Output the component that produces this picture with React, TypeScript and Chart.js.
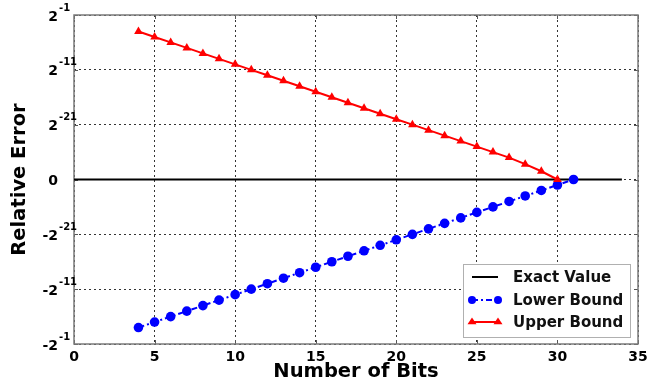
import React, { useEffect, useRef } from 'react';
import { Chart, registerables } from 'chart.js';

Chart.register(...registerables);

// Number of bits (x) for each series
const upperBits = [4, 5, 6, 7, 8, 9, 10, 11, 12, 13, 14, 15, 16, 17, 18, 19, 20, 21, 22, 23, 24, 25, 26, 27, 28, 29, 30];
const lowerBits = [4, 5, 6, 7, 8, 9, 10, 11, 12, 13, 14, 15, 16, 17, 18, 19, 20, 21, 22, 23, 24, 25, 26, 27, 28, 29, 30, 31];
const exactBits = [0, 34];

// Values in the axis' scaled units (2^-1 -> 30, 2^-11 -> 20, 2^-21 -> 10, 0 -> 0, negatives mirrored)
const upperValues = [27, 26, 25, 24, 23, 22, 21, 20, 19, 18, 17, 16, 15, 14, 13, 12, 11, 10, 9, 8, 7, 6, 5, 4, 2.8, 1.5, 0];
const lowerValues = [-27, -26, -25, -24, -23, -22, -21, -20, -19, -18, -17, -16, -15, -14, -13, -12, -11, -10, -9, -8, -7, -6, -5, -4, -3, -2, -1, 0];
const exactValues = [0, 0];

// Y tick labels: position, base text, superscript exponent
const yTickValues = [30, 20, 10, 0, -10, -20, -30];
const yTickBase = ['2', '2', '2', '0', '-2', '-2', '-2'];
const yTickExp = ['-1', '-11', '-21', '', '-21', '-11', '-1'];

const seriesLabels = ['Exact Value', 'Lower Bound', 'Upper Bound'];

const FONT = '"DejaVu Sans", Verdana, sans-serif';

const BLUE = '#0000ff';
const RED = '#ff0000';
const BLACK = '#000000';
const BLUE_DASH = [6, 3, 2, 3];

function drawMarker(ctx: CanvasRenderingContext2D, style: string, x: number, y: number, r: number, color: string) {
  ctx.save();
  ctx.fillStyle = color;
  ctx.beginPath();
  if (style === 'circle') {
    ctx.arc(x, y, r, 0, Math.PI * 2);
  } else {
    const h = r * 1.5;
    ctx.moveTo(x, y - h * 0.66);
    ctx.lineTo(x + r, y + h * 0.34);
    ctx.lineTo(x - r, y + h * 0.34);
    ctx.closePath();
  }
  ctx.fill();
  ctx.restore();
}

const overlayPlugin = {
  id: 'overlay',
  beforeDatasetsDraw(chart: any) {
    const { ctx, chartArea } = chart;
    const { left, right, top, bottom } = chartArea;
    const xs = chart.scales.x;
    const ys = chart.scales.y;
    ctx.save();
    // inward tick marks
    ctx.strokeStyle = '#555';
    ctx.lineWidth = 1;
    ctx.setLineDash([]);
    xs.ticks.forEach((t: any) => {
      const px = Math.round(xs.getPixelForValue(t.value)) + 0.5;
      ctx.beginPath();
      ctx.moveTo(px, bottom);
      ctx.lineTo(px, bottom - 4);
      ctx.moveTo(px, top);
      ctx.lineTo(px, top + 4);
      ctx.stroke();
    });
    yTickValues.forEach((v) => {
      const py = Math.round(ys.getPixelForValue(v)) + 0.5;
      ctx.beginPath();
      ctx.moveTo(left, py);
      ctx.lineTo(left + 4, py);
      ctx.moveTo(right, py);
      ctx.lineTo(right - 4, py);
      ctx.stroke();
    });
    // frame
    ctx.strokeStyle = '#7a7a7a';
    ctx.lineWidth = 1.5;
    ctx.strokeRect(left, top, right - left, bottom - top);
    ctx.restore();
  },
  afterDraw(chart: any) {
    const { ctx, chartArea } = chart;
    const { left, right, bottom } = chartArea;
    const ys = chart.scales.y;
    ctx.save();
    // y tick labels with superscripts
    ctx.fillStyle = '#000';
    yTickValues.forEach((v, i) => {
      const py = ys.getPixelForValue(v);
      ctx.font = `bold 14px ${FONT}`;
      ctx.textAlign = 'right';
      ctx.textBaseline = 'middle';
      ctx.fillText(yTickBase[i], left - 16, py + 2);
      if (yTickExp[i]) {
        ctx.font = `bold 10px ${FONT}`;
        ctx.textAlign = 'left';
        ctx.fillText(yTickExp[i], left - 15, py - 7);
      }
    });

    // legend
    const bx2 = right - 8;
    const by2 = bottom - 7;
    const bw = 167;
    const bh = 73;
    const bx = bx2 - bw;
    const by = by2 - bh;
    ctx.fillStyle = '#ffffff';
    ctx.fillRect(bx, by, bw, bh);
    ctx.strokeStyle = '#b0b0b0';
    ctx.lineWidth = 1;
    ctx.strokeRect(bx + 0.5, by + 0.5, bw, bh);

    const rows = [by + 13, by + 36, by + 58];
    const lx1 = bx + 9;
    const lx2 = bx + 35;
    const tx = bx + 50;
    const colors = [BLACK, BLUE, RED];
    rows.forEach((ry, i) => {
      ctx.save();
      ctx.strokeStyle = colors[i];
      ctx.lineWidth = 2;
      ctx.setLineDash(i === 1 ? BLUE_DASH : []);
      ctx.beginPath();
      ctx.moveTo(lx1, ry);
      ctx.lineTo(lx2, ry);
      ctx.stroke();
      ctx.restore();
      if (i === 1) {
        drawMarker(ctx, 'circle', lx1, ry, 4, BLUE);
        drawMarker(ctx, 'circle', lx2, ry, 4, BLUE);
      }
      if (i === 2) {
        drawMarker(ctx, 'triangle', lx1, ry, 4.5, RED);
        drawMarker(ctx, 'triangle', lx2, ry, 4.5, RED);
      }
      ctx.fillStyle = '#111';
      ctx.font = `bold 15px ${FONT}`;
      ctx.textAlign = 'left';
      ctx.textBaseline = 'middle';
      ctx.fillText(seriesLabels[i], tx, ry + 1);
    });
    ctx.restore();
  },
};

export default function App() {
  const canvasRef = useRef<HTMLCanvasElement | null>(null);

  useEffect(() => {
    document.body.style.margin = '0';
    const canvas = canvasRef.current;
    if (!canvas) return;

    const chart = new Chart(canvas, {
      type: 'line',
      data: {
        datasets: [
          {
            label: seriesLabels[0],
            data: exactBits.map((x, i) => ({ x, y: exactValues[i] })),
            borderColor: BLACK,
            backgroundColor: BLACK,
            borderWidth: 2,
            pointRadius: 0,
            order: 3,
          },
          {
            label: seriesLabels[1],
            data: lowerBits.map((x, i) => ({ x, y: lowerValues[i] })),
            borderColor: BLUE,
            backgroundColor: BLUE,
            borderWidth: 2,
            borderDash: BLUE_DASH,
            pointStyle: 'circle',
            pointRadius: 4.8,
            pointBorderWidth: 0,
            order: 2,
          },
          {
            label: seriesLabels[2],
            data: upperBits.map((x, i) => ({ x, y: upperValues[i] })),
            borderColor: RED,
            backgroundColor: RED,
            borderWidth: 2,
            pointStyle: 'triangle',
            pointRadius: 5,
            pointBorderWidth: 0,
            order: 1,
          },
        ],
      },
      options: {
        animation: false,
        responsive: true,
        maintainAspectRatio: false,
        layout: { padding: { top: 15, right: 27, left: 0, bottom: 0 } },
        plugins: {
          legend: { display: false },
          tooltip: { enabled: false },
        },
        scales: {
          x: {
            type: 'linear',
            min: 0,
            max: 35,
            ticks: {
              stepSize: 5,
              color: '#000',
              font: { family: FONT, size: 14, weight: 'bold' },
              padding: 5,
              maxRotation: 0,
            },
            grid: { color: '#333', lineWidth: 1, drawTicks: false },
            border: { display: false, dash: [2, 3] },
            title: {
              display: true,
              text: 'Number of Bits',
              color: '#000',
              font: { family: FONT, size: 19.5, weight: 'bold' },
              padding: { top: 0, bottom: 4 },
            },
            afterFit: (scale: any) => {
              scale.height = 44;
            },
          },
          y: {
            type: 'linear',
            min: -30,
            max: 30,
            afterBuildTicks: (scale: any) => {
              scale.ticks = yTickValues.map((v) => ({ value: v }));
            },
            ticks: { display: false },
            grid: { color: '#333', lineWidth: 1, drawTicks: false },
            border: { display: false, dash: [2, 3] },
            title: {
              display: true,
              text: 'Relative Error',
              color: '#000',
              font: { family: FONT, size: 19.5, weight: 'bold' },
              padding: { top: 8, bottom: 0 },
            },
            afterFit: (scale: any) => {
              scale.width = 74;
            },
          },
        },
      },
      plugins: [overlayPlugin],
    });

    return () => chart.destroy();
  }, []);

  return (
    <div style={{ width: 665, height: 388, position: 'relative' }}>
      <canvas ref={canvasRef} />
    </div>
  );
}
